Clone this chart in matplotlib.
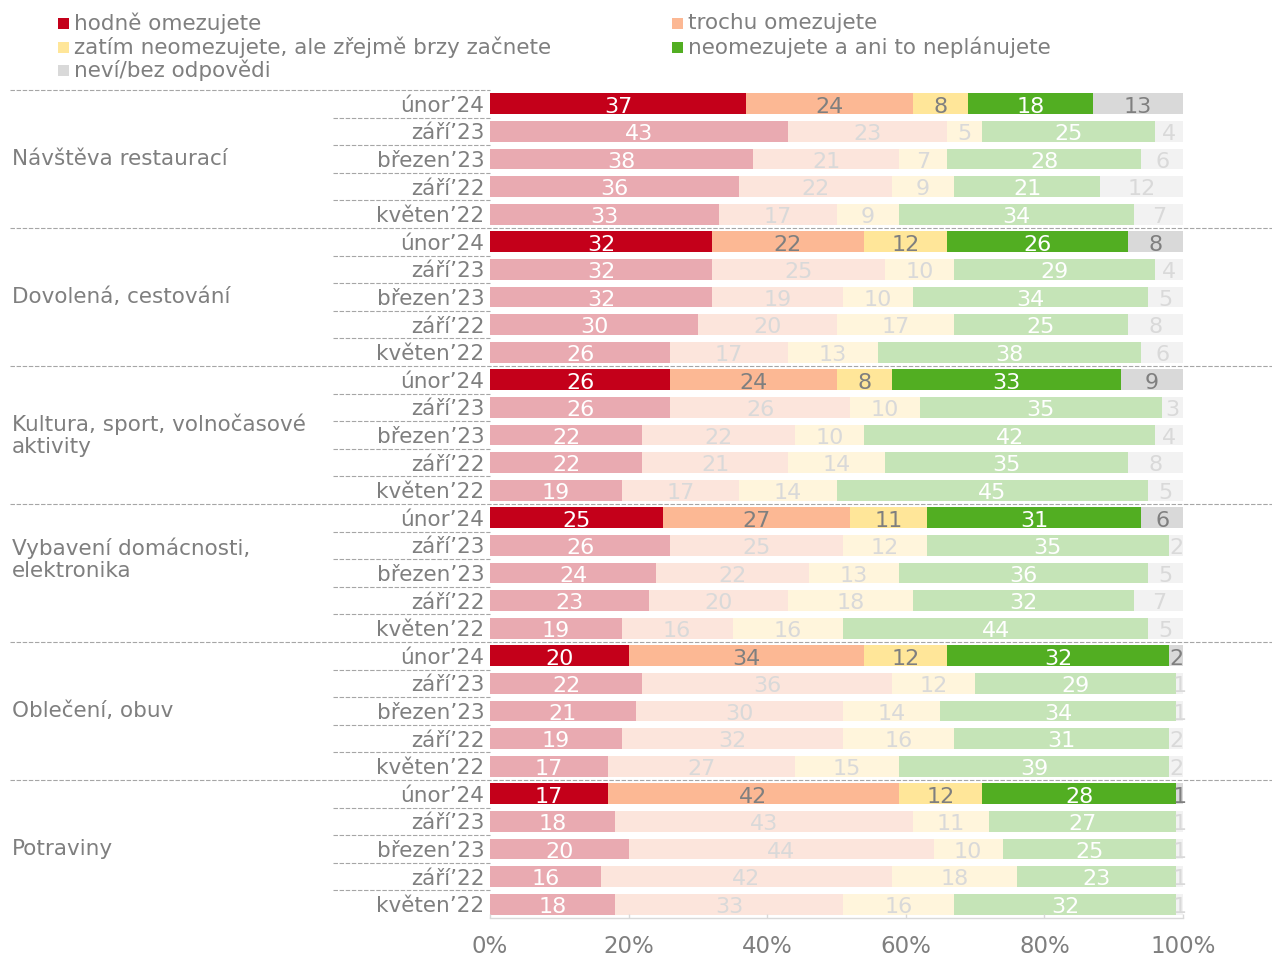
import matplotlib
matplotlib.use("Agg")
import matplotlib.pyplot as plt
from matplotlib.patches import Rectangle
from matplotlib.lines import Line2D
from matplotlib.transforms import blended_transform_factory

# ---------------- data ----------------
categories = ["Návštěva restaurací", "Dovolená, cestování",
              "Kultura, sport, volnočasové\naktivity",
              "Vybavení domácnosti,\nelektronika",
              "Oblečení, obuv", "Potraviny"]
periods = ["únor’24", "září’23", "březen’23", "září’22", "květen’22"]
series_names = ["hodně omezujete", "trochu omezujete",
                "zatím neomezujete, ale zřejmě brzy začnete",
                "neomezujete a ani to neplánujete", "neví/bez odpovědi"]

# rows: category by category, periods in the order above
hodne = [37, 43, 38, 36, 33,  32, 32, 32, 30, 26,  26, 26, 22, 22, 19,
         25, 26, 24, 23, 19,  20, 22, 21, 19, 17,  17, 18, 20, 16, 18]
trochu = [24, 23, 21, 22, 17,  22, 25, 19, 20, 17,  24, 26, 22, 21, 17,
          27, 25, 22, 20, 16,  34, 36, 30, 32, 27,  42, 43, 44, 42, 33]
zatim = [8, 5, 7, 9, 9,  12, 10, 10, 17, 13,  8, 10, 10, 14, 14,
         11, 12, 13, 18, 16,  12, 12, 14, 16, 15,  12, 11, 10, 18, 16]
neomez = [18, 25, 28, 21, 34,  26, 29, 34, 25, 38,  33, 35, 42, 35, 45,
          31, 35, 36, 32, 44,  32, 29, 34, 31, 39,  28, 27, 25, 23, 32]
nevi = [13, 4, 6, 12, 7,  8, 4, 5, 8, 6,  9, 3, 4, 8, 5,
        6, 2, 5, 7, 5,  2, 1, 1, 2, 2,  1, 1, 1, 1, 1]

x_ticks = [0, 20, 40, 60, 80, 100]
x_ticklabels = ["0%", "20%", "40%", "60%", "80%", "100%"]

# ---------------- style ----------------
plt.rcParams['font.family'] = ['DejaVu Sans']
GRAY = "#7f7f7f"
LGRAY = "#d9d9d9"
DASH = "#a6a6a6"
dark_cols = ["#C4001A", "#FCB894", "#FFE699", "#52AE22", "#D9D9D9"]
light_cols = ["#E9AAB1", "#FCE5DC", "#FFF5DC", "#C5E4B7", "#F2F2F2"]
dark_txt = ["white", GRAY, GRAY, "white", GRAY]
light_txt = ["white", LGRAY, LGRAY, "white", LGRAY]

W, H = 1272, 959
fig = plt.figure(figsize=(W / 100, H / 100), dpi=100)
ax_l, ax_r, ax_t, ax_b = 490, 1183, 90, 918
ax = fig.add_axes([ax_l / W, 1 - ax_b / H, (ax_r - ax_l) / W, (ax_b - ax_t) / H])

series = [hodne, trochu, zatim, neomez, nevi]
nper = len(periods)
nrows = len(categories) * nper
rows = list(range(nrows))

left = [0] * nrows
for s, vals in enumerate(series):
    cols = [dark_cols[s] if r % nper == 0 else light_cols[s] for r in rows]
    ax.barh(rows, vals, left=left, height=0.76, color=cols, linewidth=0)
    for r in rows:
        tc = dark_txt[s] if r % nper == 0 else light_txt[s]
        ax.text(left[r] + vals[r] / 2, r + 0.1, str(vals[r]), ha="center",
                va="center", fontsize=16, color=tc)
    left = [left[r] + vals[r] for r in rows]

ax.set_xlim(0, 100)
ax.set_ylim(nrows - 0.5, -0.5)
ax.set_yticks(rows)
ax.set_yticklabels([periods[r % nper] for r in rows])
ax.tick_params(axis="y", length=0, pad=4, labelsize=15.5, labelcolor=GRAY)
ax.set_xticks(x_ticks)
ax.set_xticklabels(x_ticklabels)
ax.tick_params(axis="x", direction="in", length=3, color=LGRAY, width=1,
               labelsize=16.5, labelcolor=GRAY, pad=12)
for sp in ["top", "left", "right"]:
    ax.spines[sp].set_visible(False)
ax.spines["bottom"].set_color(LGRAY)
ax.spines["bottom"].set_linewidth(1)

# separators
tr = blended_transform_factory(ax.transAxes, ax.transData)
def px2ax(x):
    return (x - ax_l) / (ax_r - ax_l)

dash_style = (0, (4, 1.5))
for r in range(nrows - 1):
    y = r + 0.5
    if (r + 1) % nper == 0:
        x0, x1 = px2ax(10), px2ax(W)
    else:
        x0, x1 = px2ax(333), 0
    ax.add_line(Line2D([x0, x1], [y, y], transform=tr, color=DASH, lw=0.8,
                       linestyle=dash_style, clip_on=False))
ax.add_line(Line2D([px2ax(10), 0], [-0.5, -0.5], transform=tr, color=DASH,
                   lw=0.8, linestyle=dash_style, clip_on=False))

# category labels
cat_y = [2, 7, 12, 16.5, 22, 27]
for c, name in enumerate(categories):
    ax.text(px2ax(12), cat_y[c], name, transform=tr, ha="left", va="center",
            fontsize=15.5, color=GRAY, linespacing=1.15)

# legend
leg_pos = [(58, 23), (672, 23), (58, 47), (672, 47), (58, 70)]
for s, (lx, ly) in enumerate(leg_pos):
    fig.add_artist(Rectangle((lx / W, 1 - (ly + 6) / H), 11 / W, 11 / H,
                             transform=fig.transFigure, color=dark_cols[s],
                             linewidth=0))
    fig.text((lx + 16) / W, 1 - ly / H, series_names[s], ha="left",
             va="center", fontsize=15.5, color=GRAY)

fig.savefig("out.png", dpi=100, facecolor="white")
